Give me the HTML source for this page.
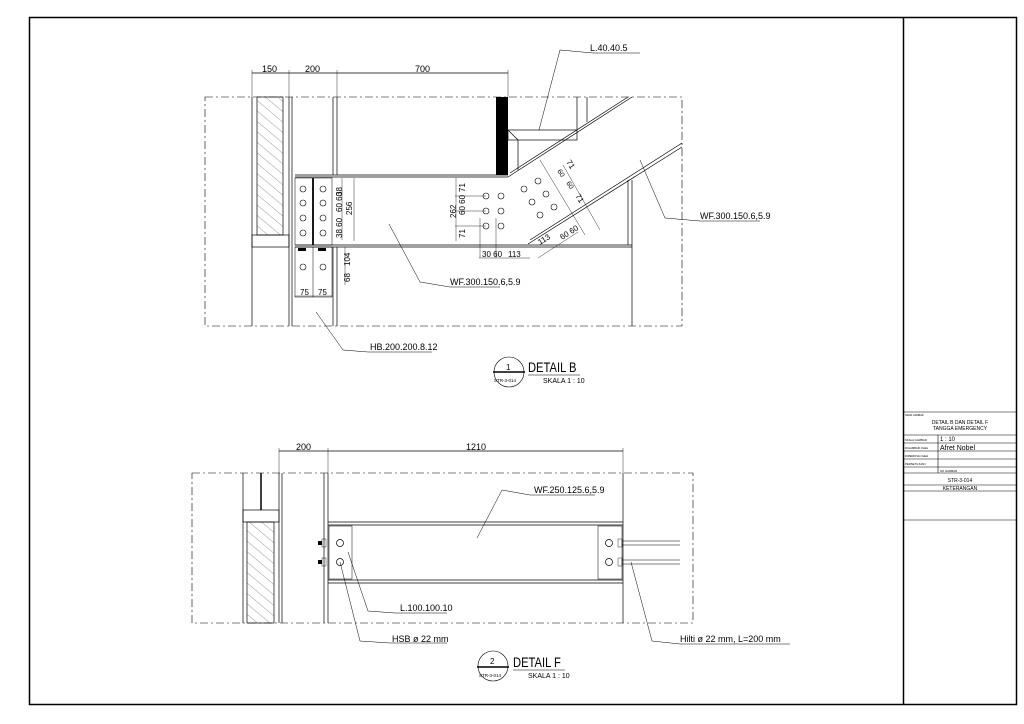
<!DOCTYPE html>
<html><head><meta charset="utf-8"><style>
html,body{margin:0;padding:0;background:#fff;}
svg{display:block;}
text{font-family:"Liberation Sans",sans-serif;fill:#000;}
</style></head><body>
<svg width="1024" height="724" viewBox="0 0 1024 724" xmlns="http://www.w3.org/2000/svg">
<defs>
<pattern id="h" width="8" height="8" patternUnits="userSpaceOnUse" patternTransform="rotate(-50)"><line x1="0" y1="0" x2="0" y2="8" stroke="#555" stroke-width="0.6"/></pattern>
</defs>
<rect x="0" y="0" width="1024" height="724" fill="#fff"/>
<rect x="29.5" y="17.5" width="987" height="687" fill="none" stroke="#000" stroke-width="1.5"/>
<line x1="903.5" y1="17" x2="903.5" y2="705" stroke="#000" stroke-width="1.5"/>

<!-- title block -->
<g stroke="#000" stroke-width="0.6" fill="none">
<line x1="903" y1="412" x2="1017" y2="412"/>
<line x1="903" y1="435" x2="1017" y2="435"/>
<line x1="903" y1="443" x2="1017" y2="443"/>
<line x1="903" y1="451" x2="1017" y2="451"/>
<line x1="903" y1="459" x2="1017" y2="459"/>
<line x1="903" y1="467" x2="1017" y2="467"/>
<line x1="903" y1="473" x2="1017" y2="473"/>
<line x1="903" y1="485" x2="1017" y2="485"/>
<line x1="903" y1="491" x2="1017" y2="491"/>
<line x1="903" y1="520" x2="1017" y2="520"/>
<line x1="938" y1="435" x2="938" y2="473"/>
</g>
<g font-size="4">
<text x="905" y="416" font-size="2.5">NAMA GAMBAR</text>
<text x="960" y="424" text-anchor="middle" font-size="5">DETAIL B DAN DETAIL F</text>
<text x="960" y="430" text-anchor="middle" font-size="5">TANGGA EMERGENCY</text>
<text x="905" y="441" font-size="2.8">SKALA GAMBAR</text>
<text x="905" y="449" font-size="2.8">DIGAMBAR OLEH</text>
<text x="905" y="457" font-size="2.8">DIPERIKSA OLEH</text>
<text x="905" y="465" font-size="2.8">PERSETUJUAN</text>
<text x="940" y="441" font-size="6">1 : 10</text>
<text x="940" y="450" font-size="7">Afret Nobel</text>
<text x="940" y="472" font-size="2.8">NO GAMBAR</text>
<text x="960" y="482" text-anchor="middle" font-size="5">STR-3-014</text>
<text x="960" y="490" text-anchor="middle" font-size="5">KETERANGAN</text>
</g>

<!-- ========== DETAIL B ========== -->
<g fill="none" stroke="#000" stroke-width="0.7">
<rect x="205" y="97" width="477" height="229" stroke-dasharray="8,3,2,3" stroke-width="0.6"/>
<!-- dims -->
<line x1="252" y1="73" x2="508" y2="73"/>
<line x1="252" y1="70" x2="252" y2="97" stroke-width="0.4"/>
<line x1="289" y1="70" x2="289" y2="97" stroke-width="0.4"/>
<line x1="337" y1="70" x2="337" y2="97" stroke-width="0.4"/>
<line x1="508" y1="70" x2="508" y2="97" stroke-width="0.4"/>
<!-- wall -->
<rect x="257" y="97" width="26" height="138" fill="url(#h)"/>
<rect x="252" y="235" width="37" height="12"/>
<line x1="252" y1="97" x2="252" y2="326"/>
<line x1="289" y1="97" x2="289" y2="326"/>
<line x1="292" y1="97" x2="292" y2="326"/>
<!-- column -->
<line x1="333" y1="97" x2="333" y2="175"/>
<line x1="337" y1="97" x2="337" y2="175"/>
<line x1="333" y1="247" x2="333" y2="326"/>
<line x1="337" y1="247" x2="337" y2="326"/>
<!-- beam -->
<line x1="295" y1="175" x2="508" y2="175"/>
<line x1="295" y1="177" x2="508" y2="177"/>
<line x1="295" y1="245" x2="632" y2="245"/>
<line x1="295" y1="247" x2="632" y2="247"/>
<line x1="632" y1="180" x2="632" y2="326"/>
<line x1="628" y1="180" x2="628" y2="245"/>
<!-- L angle -->
<line x1="577" y1="97" x2="577" y2="130"/>
<line x1="587" y1="97" x2="587" y2="122"/>
<rect x="508" y="130" width="69" height="10"/>
<line x1="508" y1="130" x2="518" y2="140"/>
<line x1="518" y1="140" x2="518" y2="170"/>
<!-- diagonal -->
<line x1="508" y1="177" x2="632" y2="97"/>
<line x1="510" y1="173" x2="628" y2="97"/>
<line x1="528" y1="244" x2="682" y2="147"/>
<line x1="530" y1="240" x2="682" y2="143"/>
<line x1="540" y1="160" x2="585" y2="235" stroke-width="0.4"/>
<!-- plates -->
<rect x="295" y="178" width="37" height="67" stroke-width="0.5"/>
<line x1="313" y1="178" x2="313" y2="245" stroke-width="1.8"/>
<rect x="295" y="247" width="37" height="50" stroke-width="0.5"/>
<line x1="313" y1="247" x2="313" y2="297" stroke-width="0.5"/>
<!-- dims plate -->
<line x1="342" y1="178" x2="342" y2="240" stroke-width="0.4"/>
<line x1="354" y1="178" x2="354" y2="241" stroke-width="0.4"/>
<line x1="345" y1="247" x2="345" y2="285" stroke-width="0.4"/>
<line x1="295" y1="296" x2="332" y2="296" stroke-width="0.4"/>
<line x1="456" y1="178" x2="456" y2="241" stroke-width="0.4"/>
<line x1="479" y1="258" x2="530" y2="258" stroke-width="0.4"/>
<line x1="480" y1="218" x2="480" y2="258" stroke-width="0.4"/>
<line x1="496" y1="218" x2="496" y2="258" stroke-width="0.4"/>
<line x1="455" y1="196" x2="486" y2="196" stroke-width="0.4"/>
<line x1="455" y1="211" x2="486" y2="211" stroke-width="0.4"/>
<line x1="455" y1="226" x2="486" y2="226" stroke-width="0.4"/>
<line x1="563" y1="165" x2="600" y2="230" stroke-width="0.4"/>
<line x1="538" y1="258" x2="578" y2="232" stroke-width="0.4"/>
<!-- leaders -->
<polyline points="389,224 420,282 450,287 500,287" stroke-width="0.5"/>
<polyline points="316,312 343,350 368,352 432,352" stroke-width="0.5"/>
<polyline points="539,130 560,50 593,53 640,53" stroke-width="0.5"/>
<polyline points="640,160 665,218 700,221 760,221" stroke-width="0.5"/>
</g>
<g fill="none" stroke="#000" stroke-width="0.6">
<circle cx="303" cy="189" r="3"/><circle cx="303" cy="203" r="3"/><circle cx="303" cy="218" r="3"/><circle cx="303" cy="233" r="3"/>
<circle cx="323" cy="189" r="3"/><circle cx="323" cy="203" r="3"/><circle cx="323" cy="218" r="3"/><circle cx="323" cy="233" r="3"/>
<circle cx="303" cy="267" r="3"/><circle cx="323" cy="267" r="3"/>
<circle cx="486" cy="196" r="3"/><circle cx="501" cy="196" r="3"/>
<circle cx="486" cy="211" r="3"/><circle cx="501" cy="211" r="3"/>
<circle cx="486" cy="226" r="3"/><circle cx="501" cy="226" r="3"/>
<circle cx="524" cy="189" r="3"/><circle cx="532" cy="202" r="3"/><circle cx="540" cy="215" r="3"/>
<circle cx="538" cy="181" r="3"/><circle cx="546" cy="194" r="3"/><circle cx="554" cy="207" r="3"/>
</g>
<rect x="496" y="97" width="12" height="78" fill="#000"/>
<rect x="298" y="248" width="8" height="3" fill="#000"/><rect x="318" y="248" width="8" height="3" fill="#000"/>
<g font-size="9">
<text x="262" y="72">150</text><text x="305" y="72">200</text><text x="415" y="72">700</text>
<text x="590" y="51">L.40.40.5</text>
<text x="700" y="219">WF.300.150.6,5.9</text>
<text x="450" y="285">WF.300.150.6,5.9</text>
<text x="370" y="350">HB.200.200.8.12</text>
<text x="300" y="295" font-size="8">75</text><text x="318" y="295" font-size="8">75</text>
<text x="482" y="257" font-size="8">30 60</text><text x="508" y="257" font-size="8">113</text>
</g>
<g font-size="8">
<text transform="translate(352,215) rotate(-90)">256</text>
<text transform="translate(342,196) rotate(-90)">38</text>
<text transform="translate(342,212) rotate(-90)">60 60</text>
<text transform="translate(342,238) rotate(-90)">38 60</text>
<text transform="translate(350,266) rotate(-90)">104</text>
<text transform="translate(350,282) rotate(-90)">68</text>
<text transform="translate(456,218) rotate(-90)">262</text>
<text transform="translate(465,192) rotate(-90)">71</text>
<text transform="translate(465,215) rotate(-90)">60 60</text>
<text transform="translate(465,238) rotate(-90)">71</text>
<text transform="translate(566,162) rotate(58)">71</text>
<text transform="translate(557,171) rotate(58)" font-size="7">60</text>
<text transform="translate(566,183) rotate(58)" font-size="7">60</text>
<text transform="translate(575,196) rotate(58)">71</text>
<text transform="translate(540,245) rotate(-32)">113</text>
<text transform="translate(562,240) rotate(-32)">60 60</text>
</g>
<!-- detail B label -->
<g stroke="#000" fill="none" stroke-width="0.6">
<circle cx="509" cy="372" r="15"/>
<line x1="493" y1="372" x2="525" y2="372" stroke-width="1.5"/>
<line x1="528" y1="375" x2="580" y2="375"/>
</g>
<text x="506" y="370" font-size="8">1</text>
<text x="494" y="382" font-size="4.5">STR-3-014</text>
<text x="528" y="372" font-size="14" transform="translate(528,372) scale(0.8,1) translate(-528,-372)">DETAIL B</text>
<text x="543" y="383" font-size="7">SKALA 1 : 10</text>

<!-- ========== DETAIL F ========== -->
<g fill="none" stroke="#000" stroke-width="0.7">
<rect x="192" y="473" width="501" height="150" stroke-dasharray="8,3,2,3" stroke-width="0.6"/>
<line x1="279" y1="451" x2="623" y2="451"/>
<line x1="279" y1="448" x2="279" y2="473" stroke-width="0.4"/>
<line x1="328" y1="448" x2="328" y2="473" stroke-width="0.4"/>
<line x1="623" y1="448" x2="623" y2="473" stroke-width="0.4"/>
<line x1="243" y1="473" x2="243" y2="623"/>
<line x1="279" y1="473" x2="279" y2="623"/>
<rect x="243" y="510" width="36" height="12"/>
<rect x="247" y="522" width="27" height="101" fill="url(#h)"/>
<line x1="282" y1="473" x2="282" y2="623"/>
<line x1="324" y1="473" x2="324" y2="623"/>
<line x1="328" y1="473" x2="328" y2="623"/>
<line x1="623" y1="473" x2="623" y2="623"/>
<line x1="328" y1="522" x2="623" y2="522"/>
<line x1="328" y1="525" x2="623" y2="525"/>
<line x1="328" y1="580" x2="623" y2="580"/>
<line x1="328" y1="583" x2="623" y2="583"/>
<rect x="329" y="526" width="23" height="53" stroke-width="0.5"/>
<rect x="598" y="526" width="24" height="53" stroke-width="0.5"/>
<line x1="622" y1="541" x2="680" y2="541" stroke-width="0.5"/>
<line x1="622" y1="545" x2="680" y2="545" stroke-width="0.5"/>
<line x1="622" y1="560" x2="680" y2="560" stroke-width="0.5"/>
<line x1="622" y1="564" x2="680" y2="564" stroke-width="0.5"/>
<polyline points="502,490 530,495 595,495" stroke-width="0.5"/>
<line x1="502" y1="490" x2="477" y2="538" stroke-width="0.5"/>
<polyline points="348,552 368,611 395,613 447,613" stroke-width="0.5"/>
<polyline points="340,562 360,641 390,643 447,643" stroke-width="0.5"/>
<polyline points="631,562 652,641 680,644 790,644" stroke-width="0.5"/>
<circle cx="340" cy="543" r="3.5"/><circle cx="340" cy="562" r="3.5"/>
<circle cx="609" cy="543" r="3.5"/><circle cx="609" cy="562" r="3.5"/>
<rect x="322" y="539" width="4" height="8" stroke-width="0.4"/><rect x="322" y="558" width="4" height="8" stroke-width="0.4"/>
<rect x="618" y="539" width="4" height="8" stroke-width="0.4"/><rect x="618" y="558" width="4" height="8" stroke-width="0.4"/>
</g>
<line x1="261" y1="473" x2="261" y2="510" stroke="#000" stroke-width="1.5"/>
<rect x="318" y="541" width="4" height="4" fill="#000"/><rect x="318" y="560" width="4" height="4" fill="#000"/>
<g font-size="9">
<text x="296" y="450">200</text><text x="466" y="450">1210</text>
<text x="534" y="493">WF.250.125.6,5.9</text>
<text x="400" y="611">L.100.100.10</text>
<text x="392" y="642">HSB  ø  22  mm</text>
<text x="680" y="642">Hilti  ø  22  mm,  L=200  mm</text>
</g>
<g stroke="#000" fill="none" stroke-width="0.6">
<circle cx="493" cy="666" r="15"/>
<line x1="477" y1="667" x2="509" y2="667" stroke-width="1.5"/>
<line x1="513" y1="670" x2="565" y2="670"/>
</g>
<text x="490" y="664" font-size="8">2</text>
<text x="479" y="677" font-size="4.5">STR-3-014</text>
<text x="513" y="667" font-size="14" transform="translate(513,667) scale(0.8,1) translate(-513,-667)">DETAIL F</text>
<text x="528" y="678" font-size="7">SKALA 1 : 10</text>
</svg>
</body></html>
